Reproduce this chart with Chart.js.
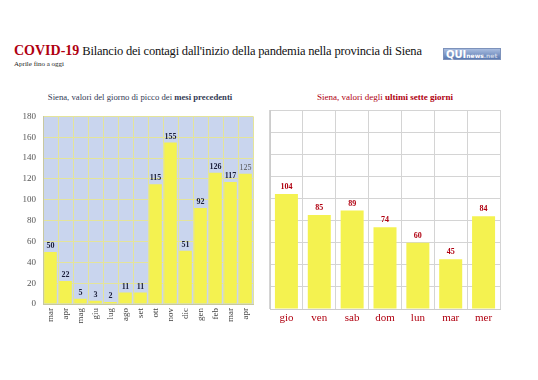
<!DOCTYPE html>
<html><head><meta charset="utf-8">
<script src="https://cdn.jsdelivr.net/npm/chart.js@4"></script>
<style>
html,body{margin:0;padding:0;background:#fff;}
body{width:538px;height:380px;position:relative;overflow:hidden;}
.abs{position:absolute;white-space:nowrap;font-family:"Liberation Serif","DejaVu Serif",serif;}
#title{left:14px;top:43px;font-size:12.5px;color:#111;letter-spacing:-0.2px;}
#title b{color:#b00010;font-size:14px;letter-spacing:0;}
#sub{left:14px;top:60px;font-size:7px;color:#222;}
#logo{left:443px;top:48px;width:58px;height:12px;background:linear-gradient(#a9bde0,#5a78b0);border:1px solid #7d92bb;font-family:"DejaVu Sans",sans-serif;color:#fff;font-size:10px;font-weight:bold;line-height:12px;padding-left:2px;box-sizing:border-box;}
#logo span{font-size:6px;}
#t1{left:0;width:280px;text-align:center;top:92px;font-size:8.7px;color:#333a55;}
#t2{left:270px;width:230px;text-align:center;top:92px;font-size:9px;color:#b00010;}
#c1{position:absolute;left:0;top:104px;}
#c2{position:absolute;left:268px;top:104px;}
</style></head>
<body>
<div id="title" class="abs"><b>COVID-19</b> Bilancio dei contagi dall'inizio della pandemia nella provincia di Siena</div>
<div id="sub" class="abs">Aprile fino a oggi</div>
<div id="logo" class="abs">QUI<span>news</span><span style="opacity:.6">.net</span></div>
<div id="t1" class="abs">Siena, valori del giorno di picco dei <b>mesi precedenti</b></div>
<div id="t2" class="abs">Siena, valori degli <b>ultimi sette giorni</b></div>
<canvas id="c1" width="268" height="236"></canvas>
<canvas id="c2" width="270" height="236"></canvas>
<script>
const monthLabels = ["mar","apr","mag","giu","lug","ago","set","ott","nov","dic","gen","feb","mar","apr"];
const monthValues = [50,22,5,3,2,11,11,115,155,51,92,126,117,125];
const dayLabels = ["gio","ven","sab","dom","lun","mar","mer"];
const dayValues = [104,85,89,74,60,45,84];
const SERIF = "'Liberation Serif','DejaVu Serif',serif";

const areaBg = {
  id:'areaBg',
  beforeDraw(chart, args, opts){
    if(!opts.color) return;
    const a = chart.chartArea, ctx = chart.ctx;
    ctx.save(); ctx.fillStyle = opts.color;
    ctx.fillRect(a.left, a.top, a.right-a.left, a.bottom-a.top);
    ctx.restore();
  }
};
const valLabels = {
  id:'valLabels',
  afterDatasetsDraw(chart, args, opts){
    const ctx = chart.ctx;
    const meta = chart.getDatasetMeta(0);
    const data = chart.data.datasets[0].data;
    ctx.save();
    ctx.textAlign = 'center'; ctx.textBaseline = 'bottom';
    meta.data.forEach((bar, i) => {
      const last = opts.lastPlain && i === data.length-1;
      ctx.font = (last ? '' : 'bold ') + opts.size + 'px ' + SERIF;
      ctx.fillStyle = last ? '#555' : opts.color;
      ctx.fillText(String(data[i]), bar.x, bar.y - opts.gap);
    });
    ctx.restore();
  }
};

new Chart(document.getElementById('c1'), {
  type:'bar',
  data:{labels:monthLabels, datasets:[{data:monthValues, backgroundColor:'#f4f250', barPercentage:0.84, categoryPercentage:1}]},
  options:{
    responsive:false, animation:false,
    layout:{padding:{top:8,right:15,left:0,bottom:0}},
    plugins:{legend:{display:false}, tooltip:{enabled:false},
      areaBg:{color:'#c9d5ee'},
      valLabels:{size:8,color:'#1c1f3a',gap:2,lastPlain:true}},
    scales:{
      x:{grid:{color:'#e4e49a',offset:true,drawTicks:false},border:{color:'#c8c8a0'},
        ticks:{font:{family:SERIF,size:9},color:'#444',minRotation:90,maxRotation:90,padding:4},
        afterFit(s){s.height=36;}},
      y:{min:0,max:180,grid:{color:'#e4e49a',drawTicks:false},border:{color:'#c8c8a0'},
        ticks:{stepSize:20,font:{family:SERIF,size:9},color:'#555',padding:7},
        afterFit(s){s.width=43;}}
    }
  },
  plugins:[areaBg,valLabels]
});

new Chart(document.getElementById('c2'), {
  type:'bar',
  data:{labels:dayLabels, datasets:[{data:dayValues, backgroundColor:'#f4f250', barPercentage:0.7, categoryPercentage:1}]},
  options:{
    responsive:false, animation:false,
    layout:{padding:{top:6,right:38,left:2,bottom:0}},
    plugins:{legend:{display:false}, tooltip:{enabled:false},
      valLabels:{size:8,color:'#b00010',gap:3}},
    scales:{
      x:{grid:{color:'#d4d4d4',offset:true,drawTicks:false},border:{color:'#cccccc'},
        ticks:{font:{family:SERIF,size:11},color:'#b00010',padding:3},
        afterFit(s){s.height=31;}},
      y:{min:0,max:180,display:true,grid:{color:'#d4d4d4',drawTicks:false},border:{color:'#cccccc'},
        ticks:{stepSize:20,display:false},
        afterFit(s){s.width=0;}}
    }
  },
  plugins:[valLabels]
});
</script>
</body></html>
